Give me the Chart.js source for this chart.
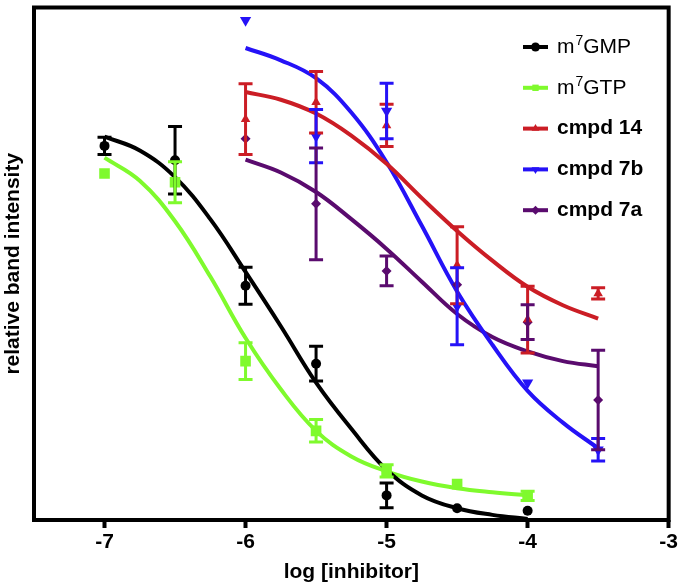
<!doctype html>
<html>
<head>
<meta charset="utf-8">
<title>relative band intensity vs log [inhibitor]</title>
<script src="https://cdn.jsdelivr.net/npm/chart.js@4.4.1/dist/chart.umd.min.js"></script>
<style>
body { margin: 0; background: #fff; }
#wrap { position: relative; width: 680px; height: 585px; }
</style>
</head>
<body>
<div id="wrap"><canvas id="graph"></canvas></div>
<script>
// measured points (log molar), mean and +/- error
var concA = [-7, -6.5, -6, -5.5, -5, -4.5, -4];
var concB = [-6, -5.5, -5, -4.5, -4, -3.5];

var gmpMean = [73.0, 70.2, 45.7, 30.5, 4.8, 2.3, 1.8];
var gmpErr  = [1.7, 6.6, 3.6, 3.4, 2.4, 0, 0];
var gtpMean = [67.6, 65.9, 31.0, 17.4, 9.6, 7.0, 4.7];
var gtpErr  = [0, 4.0, 3.6, 2.2, 1.2, 0, 0.9];
var c14Mean = [78.2, 81.5, 77.0, 49.7, 39.1, 44.2];
var c14Err  = [6.9, 6.0, 4.1, 7.5, 6.5, 1.1];
var c7bMean = [97.5, 74.9, 79.8, 41.7, 26.8, 13.7];
var c7bErr  = [0, 5.2, 5.4, 7.5, 0, 2.2];
var c7aMean = [74.4, 61.7, 48.6, 45.9, 38.6, 23.4];
var c7aErr  = [0, 10.9, 2.9, 0, 3.4, 9.7];

// fitted curves
var fitXA = [-7, -6.75, -6.5, -6.25, -6, -5.75, -5.5, -5.25, -5, -4.75, -4.5, -4.25, -4];
var fitXB = [-6, -5.75, -5.5, -5.25, -5, -4.75, -4.5, -4.25, -4, -3.75, -3.5];
var gmpFit = [74.8, 72.1, 66.9, 58.7, 48.4, 37.8, 26.8, 17.8, 9.8, 4.8, 2.3, 1.0, 0.2];
var gtpFit = [70.7, 66.2, 58.3, 47.5, 35.5, 25.5, 17.4, 12.4, 9.5, 7.5, 6.2, 5.4, 4.8];
var c14Fit = [83.5, 82.0, 79.3, 75.0, 69.5, 62.8, 56.4, 50.6, 45.5, 41.9, 39.3];
var c7bFit = [92.1, 89.7, 86.2, 79.5, 69.8, 57.4, 44.6, 34.2, 25.2, 19.0, 14.0];
var c7aFit = [70.3, 67.8, 64.0, 58.7, 52.9, 46.5, 40.2, 35.7, 32.9, 31.0, 30.0];

var xTickValues = [-7, -6, -5, -4, -3];
var seriesNames = ['m^7GMP', 'm^7GTP', 'cmpd 14', 'cmpd 7b', 'cmpd 7a'];

var fontFam = 'Liberation Sans, Arial, Helvetica, sans-serif';

var series = [
    {name: seriesNames[0], bold: false, color: '#000000', style: 'circle',   r: 5,   rot: 0,   x: concA, mean: gmpMean, err: gmpErr, fx: fitXA, fit: gmpFit},
    {name: seriesNames[1], bold: false, color: '#7ffa2d', style: 'rect',     r: 7.5, rot: 0,   x: concA, mean: gtpMean, err: gtpErr, fx: fitXA, fit: gtpFit},
    {name: seriesNames[2], bold: true,  color: '#cb1d25', style: 'triangle', r: 5.5, rot: 0,   x: concB, mean: c14Mean, err: c14Err, fx: fitXB, fit: c14Fit},
    {name: seriesNames[3], bold: true,  color: '#2512f7', style: 'triangle', r: 6.5, rot: 180, x: concB, mean: c7bMean, err: c7bErr, fx: fitXB, fit: c7bFit},
    {name: seriesNames[4], bold: true,  color: '#5a0b6e', style: 'rectRot',  r: 5,   rot: 0,   x: concB, mean: c7aMean, err: c7aErr, fx: fitXB, fit: c7aFit}
];

var datasets = [];
series.forEach(function(sr) {
    datasets.push({
        data: sr.fx.map(function(x, i) { return {x: x, y: sr.fit[i]}; }),
        showLine: true,
        borderColor: sr.color,
        borderWidth: 4,
        pointRadius: 0,
        tension: 0.4,
        fill: false,
        order: 1
    });
    datasets.push({
        data: sr.x.map(function(x, i) { return {x: x, y: sr.mean[i]}; }),
        showLine: false,
        pointStyle: sr.style,
        pointRadius: sr.r,
        rotation: sr.rot,
        backgroundColor: sr.color,
        borderColor: sr.color,
        borderWidth: 0,
        order: 0
    });
});

function marker(ctx, style, rot, x, y, r) {
    ctx.beginPath();
    if (style == 'circle') {
        ctx.arc(x, y, r, 0, Math.PI * 2);
    } else if (style == 'rect') {
        ctx.rect(x - r * 0.707, y - r * 0.707, r * 1.414, r * 1.414);
    } else if (style == 'rectRot') {
        ctx.moveTo(x, y - r); ctx.lineTo(x + r, y); ctx.lineTo(x, y + r); ctx.lineTo(x - r, y);
    } else {
        var d = rot ? -1 : 1;
        ctx.moveTo(x, y - d * r);
        ctx.lineTo(x + r * 0.866, y + d * r * 0.5);
        ctx.lineTo(x - r * 0.866, y + d * r * 0.5);
    }
    ctx.closePath();
    ctx.fill();
}

var extras = {
    id: 'extras',
    afterDatasetsDraw: function(chart) {
        var ctx = chart.ctx, xs = chart.scales.x, ys = chart.scales.y;
        ctx.save();
        ctx.lineWidth = 3;
        series.forEach(function(sr) {
            ctx.strokeStyle = sr.color;
            for (var i = 0; i < sr.x.length; i++) {
                if (!sr.err[i]) continue;
                var px = xs.getPixelForValue(sr.x[i]);
                var top = ys.getPixelForValue(sr.mean[i] + sr.err[i]);
                var bot = ys.getPixelForValue(sr.mean[i] - sr.err[i]);
                ctx.beginPath();
                ctx.moveTo(px, top); ctx.lineTo(px, bot);
                ctx.moveTo(px - 7, top); ctx.lineTo(px + 7, top);
                ctx.moveTo(px - 7, bot); ctx.lineTo(px + 7, bot);
                ctx.stroke();
            }
        });
        // heavy frame round the plot
        var a = chart.chartArea;
        ctx.lineWidth = 4;
        ctx.strokeStyle = '#000';
        ctx.strokeRect(a.left, a.top, a.right - a.left, a.bottom - a.top);
        ctx.restore();
    },
    afterDraw: function(chart) {
        var ctx = chart.ctx;
        ctx.save();
        series.forEach(function(sr, i) {
            var y = 47 + i * 40.8;
            ctx.strokeStyle = sr.color;
            ctx.fillStyle = sr.color;
            ctx.lineWidth = 4;
            ctx.beginPath();
            ctx.moveTo(523, y); ctx.lineTo(548, y);
            ctx.stroke();
            marker(ctx, sr.style, sr.rot, 535.5, y, 4.5);

            ctx.fillStyle = '#000';
            ctx.textBaseline = 'middle';
            ctx.textAlign = 'left';
            var w = sr.bold ? 'bold ' : '';
            var parts = sr.name.split('^');
            var x = 557;
            ctx.font = w + '21px ' + fontFam;
            ctx.fillText(parts[0], x, y);
            x += ctx.measureText(parts[0]).width;
            if (parts.length > 1) {
                var sup = parts[1].charAt(0), rest = parts[1].slice(1);
                ctx.font = w + '14px ' + fontFam;
                ctx.fillText(sup, x + 1, y - 6);
                x += ctx.measureText(sup).width + 1;
                ctx.font = w + '21px ' + fontFam;
                ctx.fillText(rest, x, y);
            }
        });
        ctx.restore();
    }
};

Chart.defaults.font.family = fontFam;
Chart.defaults.color = '#000';

new Chart(document.getElementById('graph'), {
    type: 'scatter',
    data: {datasets: datasets},
    plugins: [extras],
    options: {
        responsive: true,
        maintainAspectRatio: false,
        animation: false,
        events: [],
        layout: {padding: {top: 4, right: 11, left: 0, bottom: 0}},
        plugins: {legend: {display: false}, tooltip: {enabled: false}},
        scales: {
            x: {
                type: 'linear',
                min: -7.5,
                max: -3,
                afterBuildTicks: function(s) {
                    s.ticks = xTickValues.map(function(v) { return {value: v}; });
                },
                afterFit: function(s) { s.height = 65; },
                border: {display: false},
                grid: {drawOnChartArea: false, drawTicks: true, tickLength: 8, tickWidth: 4, tickColor: '#000'},
                ticks: {padding: 2, color: '#000', font: {size: 21, weight: 'bold'}},
                title: {display: true, text: 'log [inhibitor]', color: '#000', padding: {top: 0, bottom: 0}, font: {size: 21, weight: 'bold'}}
            },
            y: {
                type: 'linear',
                min: 0,
                max: 100,
                afterFit: function(s) { s.width = 34; },
                border: {display: false},
                grid: {display: false},
                ticks: {display: false},
                title: {display: true, text: 'relative band intensity', color: '#000', padding: {top: 1, bottom: 0}, font: {size: 21, weight: 'bold'}}
            }
        }
    }
});
</script>
</body>
</html>
